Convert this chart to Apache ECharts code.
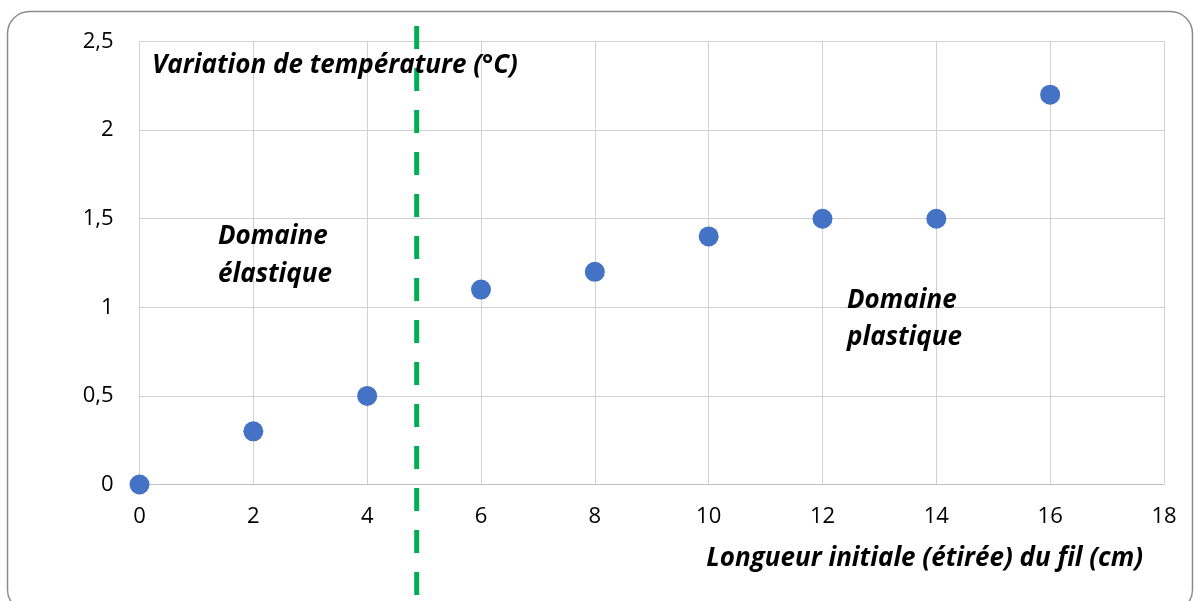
<!DOCTYPE html>
<html>
<head>
<meta charset="utf-8">
<script src="https://cdn.jsdelivr.net/npm/echarts@6/dist/echarts.min.js"></script>
<style>
html,body{margin:0;padding:0;background:#fff;}
#c{width:1194px;height:601px;}
</style>
</head>
<body>
<div id="c"></div>
<script>
var xValues = [0, 2, 4, 6, 8, 10, 12, 14, 16];
var yValues = [0, 0.3, 0.5, 1.1, 1.2, 1.4, 1.5, 1.5, 2.2];
var elasticLimit = 4.87;
var yTitle = 'Variation de température (°C)';
var xTitle = 'Longueur initiale (étirée) du fil (cm)';
var elasticLabel = 'Domaine\nélastique';
var plasticLabel = 'Domaine\nplastique';

var FONT = '"Open Sans", "Noto Sans", sans-serif';
var points = xValues.map(function (x, i) { return [x, yValues[i]]; });

var chart = echarts.init(document.getElementById('c'), null, {renderer: 'canvas'});
var titleStyle = {fontFamily: FONT, fontSize: 26, fontWeight: 'bold', fontStyle: 'italic', fill: '#000'};

chart.setOption({
  animation: false,
  backgroundColor: '#fff',
  grid: {left: 139.5, right: 30, top: 41.5, bottom: 116.5, containLabel: false},
  xAxis: {
    type: 'value', min: 0, max: 18, interval: 2,
    axisLine: {show: true, onZero: true, lineStyle: {color: '#BFBFBF', width: 1}},
    axisTick: {show: false},
    axisLabel: {color: '#000', fontFamily: FONT, fontSize: 22, margin: 21},
    splitLine: {show: true, lineStyle: {color: '#D0D0D0', width: 1}}
  },
  yAxis: {
    type: 'value', min: 0, max: 2.5, interval: 0.5,
    axisLine: {show: false},
    axisTick: {show: false},
    axisLabel: {color: '#000', fontFamily: FONT, fontSize: 22, margin: 26,
      formatter: function (v) { return String(v).replace('.', ','); }},
    splitLine: {show: true, lineStyle: {color: '#D0D0D0', width: 1}}
  },
  series: [{
    type: 'scatter',
    data: points,
    symbol: 'circle',
    symbolSize: 20,
    itemStyle: {color: '#4472C4', opacity: 1},
    z: 5
  }]
});

var lx = chart.convertToPixel({xAxisIndex: 0}, elasticLimit);

chart.setOption({
  graphic: [
    {type: 'rect', shape: {x: 7.5, y: 11.5, width: 1185, height: 600, r: 22},
      style: {fill: 'none', stroke: '#8C8C8C', lineWidth: 1.5}, z: 1, silent: true},
    {type: 'line', shape: {x1: lx, y1: 26, x2: lx, y2: 601},
      style: {stroke: '#00B050', lineWidth: 5, lineDash: [23, 19]}, z: 10, silent: true},
    {type: 'text', x: 152, y: 66, style: Object.assign({text: yTitle, verticalAlign: 'middle', align: 'left'}, titleStyle), z: 20},
    {type: 'text', x: 218, y: 256, style: Object.assign({text: elasticLabel, verticalAlign: 'middle', align: 'left', lineHeight: 38}, titleStyle), z: 20},
    {type: 'text', x: 847, y: 319, style: Object.assign({text: plasticLabel, verticalAlign: 'middle', align: 'left', lineHeight: 37}, titleStyle), z: 20},
    {type: 'text', x: 1143, y: 559, style: Object.assign({text: xTitle, verticalAlign: 'middle', align: 'right'}, titleStyle), z: 20}
  ]
});
</script>
</body>
</html>
